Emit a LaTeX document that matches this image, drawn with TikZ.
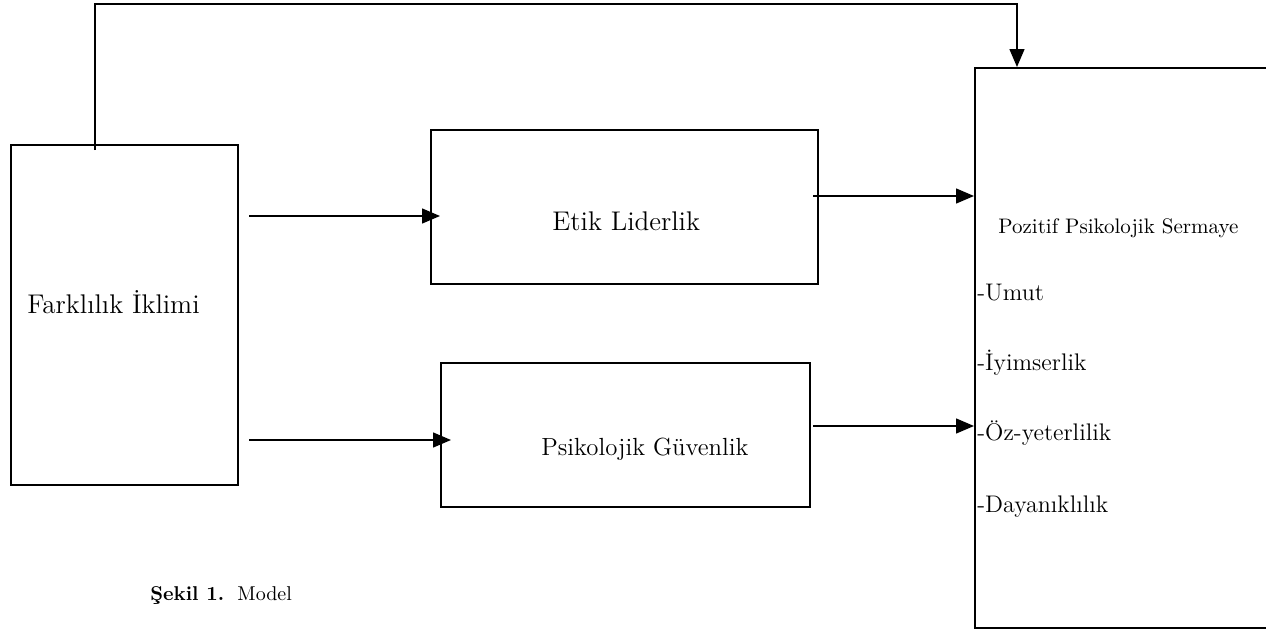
\documentclass[tikz,border=0pt]{standalone}
\usetikzlibrary{arrows.meta}

\begin{document}
\begin{tikzpicture}[x=0.5pt,y=-0.5pt,
        arr/.style={-{Triangle[length=9pt,width=7.5pt]},line width=0.75pt},
        lbl/.style={inner sep=0pt,anchor=base west,font=\fontsize{13.5}{16}\selectfont}]
                    \clip (0,0) rectangle (1266,633);
                    \begin{scope}[every node/.style={draw=black,line width=1pt,inner sep=0pt}]
                        \node[minimum width=113.5pt,minimum height=170pt] (FI) at (124.5,315) {};
                        \node[minimum width=193.5pt,minimum height=77pt] (EL) at (624.5,207) {};
                        \node[minimum width=184.5pt,minimum height=72pt] (PG) at (625.5,435) {};
                        \node[minimum width=170pt,minimum height=280pt] (PPS) at (1145,348) {};
                    \end{scope}
                    \node[lbl] (tFI) at (27,313) {Farklılık İklimi};
                    \node[lbl] (tEL) at (552,230) {Etik Liderlik};
                    \node[lbl,font=\fontsize{12.4}{15}\selectfont] (tPG) at (541,455) {Psikolojik Güvenlik};
                    \node[lbl,font=\fontsize{10.5}{12}\selectfont] (tPPS) at (998,233) {Pozitif Psikolojik Sermaye};
                    \foreach \t/\y in {Umut/300,İyimserlik/370,Öz-yeterlilik/440,Dayanıklılık/512}
                        \node[lbl,font=\fontsize{12}{14}\selectfont] (item\y) at (977,\y) {-\t};
                    \node[lbl,font=\fontsize{10}{12}\selectfont] (cap) at (150,600) {\textbf{Şekil 1.}\ \ Model};
                    \coordinate (FItop) at (95,150);
                    \coordinate (c) at (1017,4);
                    \coordinate (a1) at (249,216);
                    \coordinate (a2) at (249,440);
                    \coordinate (a3) at (813,196);
                    \coordinate (a4) at (813,426);
                    \begin{scope}[every path/.style={arr}]
                        \draw (FItop) |- (c) -- (c |- PPS.north);
                        \draw[shorten >=-5pt] (a1) -- (a1 -| EL.west);
                        \draw[shorten >=-5.5pt] (a2) -- (a2 -| PG.west);
                        \draw (a3) -- (a3 -| PPS.west);
                        \draw (a4) -- (a4 -| PPS.west);
                    \end{scope}
                \end{tikzpicture}
\end{document}
